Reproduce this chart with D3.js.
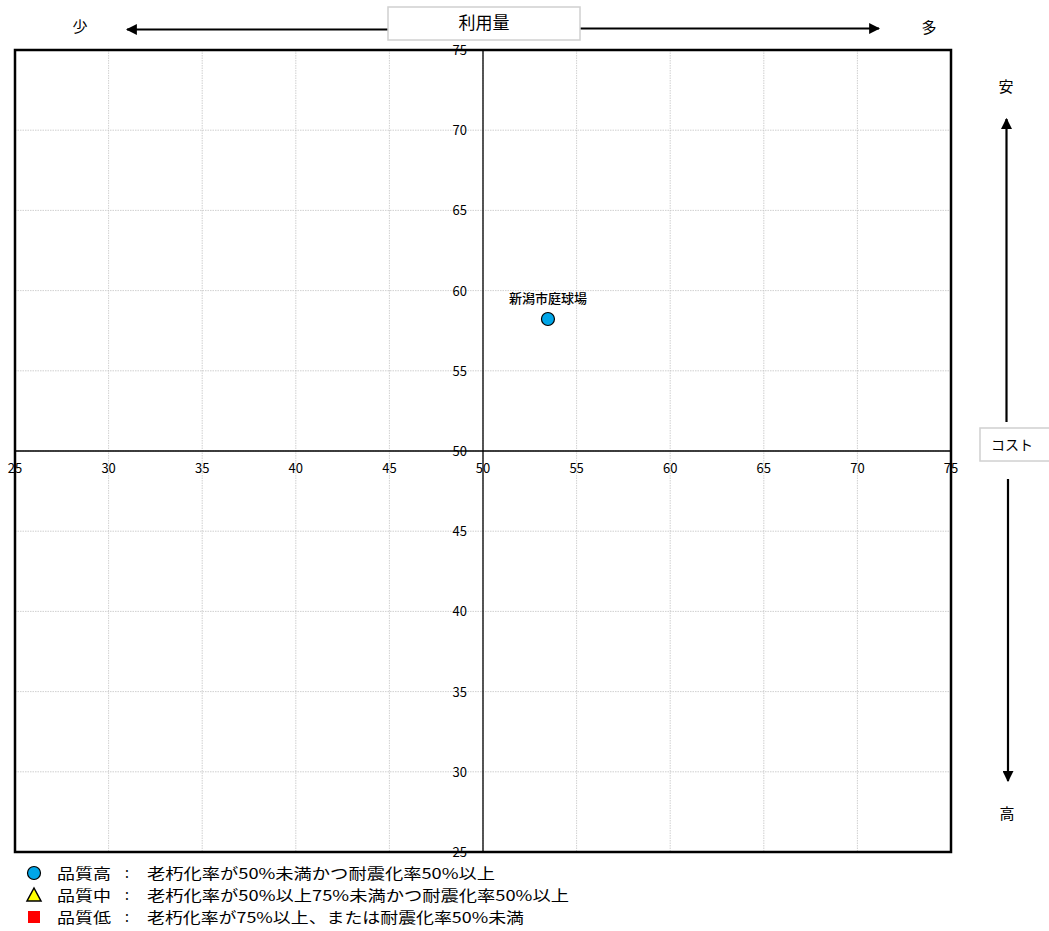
<!DOCTYPE html>
<html><head><meta charset="utf-8">
<script src="https://cdn.jsdelivr.net/npm/d3@7/dist/d3.min.js"></script>
<style>body{margin:0;background:#fff;font-family:"Noto Sans CJK JP","Noto Sans",sans-serif;}</style>
</head><body><svg id="c" width="1049" height="931"></svg>
<script>
const facilities = ["新潟市庭球場"];
const usage = [53.47];
const cost = [58.23];
const quality = ["high"];
const xTicks = [25,30,35,40,45,50,55,60,65,70,75];
const yTicks = [25,30,35,40,45,50,55,60,65,70,75];
const legendNames = ["品質高","品質中","品質低"];
const legendDesc = ["老朽化率が50%未満かつ耐震化率50%以上","老朽化率が50%以上75%未満かつ耐震化率50%以上","老朽化率が75%以上、または耐震化率50%未満"];
const legendKeys = ["high","mid","low"];
const legendDescWidth = [348,422,377];

const svg = d3.select("#c");
const L=15,R=951,T=50,B=852;
const x = d3.scaleLinear().domain([25,75]).range([L,R]);
const y = d3.scaleLinear().domain([25,75]).range([B,T]);
const font = '"Noto Sans CJK JP","Noto Sans",sans-serif';

svg.append("defs").html(`<marker id="ah" viewBox="0 0 10 10" refX="9" refY="5" markerWidth="5" markerHeight="5" orient="auto-start-reverse" markerUnits="strokeWidth"><path d="M0,0 L10,5 L0,10 z" fill="#000"/></marker>`);

// grid
const g = svg.append("g");
g.selectAll(".vx").data(xTicks.slice(1,-1)).join("line")
 .attr("x1",d=>x(d)).attr("x2",d=>x(d)).attr("y1",T).attr("y2",B)
 .attr("stroke","#c4c4c4").attr("stroke-width",0.8).attr("stroke-dasharray","1.5,1");
g.selectAll(".hy").data(yTicks.slice(1,-1)).join("line")
 .attr("y1",d=>y(d)).attr("y2",d=>y(d)).attr("x1",L).attr("x2",R)
 .attr("stroke","#c4c4c4").attr("stroke-width",0.8).attr("stroke-dasharray","1.5,1");

// center axes
svg.append("line").attr("x1",x(50)).attr("x2",x(50)).attr("y1",T).attr("y2",B).attr("stroke","#000").attr("stroke-width",1.3);
svg.append("line").attr("x1",L).attr("x2",R).attr("y1",y(50)).attr("y2",y(50)).attr("stroke","#000").attr("stroke-width",1.3);

// tick labels
svg.selectAll(".xl").data(xTicks).join("text")
 .attr("x",d=>x(d)).attr("y",y(50)+22).attr("text-anchor","middle")
 .attr("font-family",font).attr("font-size",13).attr("fill","#000").text(d=>d);
svg.selectAll(".yl").data(yTicks).join("text")
 .attr("x",x(50)-16).attr("y",d=>y(d)+5).attr("text-anchor","end")
 .attr("font-family",font).attr("font-size",13).attr("fill","#000").text(d=>d);

// border
svg.append("rect").attr("x",L).attr("y",T).attr("width",R-L).attr("height",B-T).attr("fill","none").attr("stroke","#000").attr("stroke-width",2.5);

// points
const pts = facilities.map((f,i)=>({name:f,u:usage[i],c:cost[i],q:quality[i]}));
function sym(sel,q){
  if(q==="high") sel.append("circle").attr("r",6.5).attr("fill","#00a6e8").attr("stroke","#000").attr("stroke-width",1.2);
  else if(q==="mid") sel.append("path").attr("d","M0,-7 L7,6 L-7,6 Z").attr("fill","#ffff00").attr("stroke","#000").attr("stroke-width",1.5);
  else sel.append("rect").attr("x",-6).attr("y",-6).attr("width",12).attr("height",12).attr("fill","#ff0000");
}
pts.forEach(p=>{
  const gg = svg.append("g").attr("transform",`translate(${x(p.u)},${y(p.c)})`);
  sym(gg,p.q);
  svg.append("text").attr("x",x(p.u)).attr("y",y(p.c)-16).attr("text-anchor","middle")
   .attr("font-family",font).attr("font-size",13).attr("font-weight",500).attr("fill","#000").text(p.name);
});

// top axis annotation
svg.append("line").attr("x1",388).attr("x2",127).attr("y1",29.5).attr("y2",29.5).attr("stroke","#000").attr("stroke-width",2.2).attr("marker-end","url(#ah)");
svg.append("line").attr("x1",580).attr("x2",879).attr("y1",28.5).attr("y2",28.5).attr("stroke","#000").attr("stroke-width",2.2).attr("marker-end","url(#ah)");
svg.append("rect").attr("x",388).attr("y",7).attr("width",192).attr("height",33).attr("fill","#fff").attr("stroke","#d0d0d0").attr("stroke-width",1.5);
svg.append("text").attr("x",484).attr("y",29).attr("text-anchor","middle").attr("font-family",font).attr("font-size",17).text("利用量");
svg.append("text").attr("x",80).attr("y",32).attr("text-anchor","middle").attr("font-family",font).attr("font-size",15).text("少");
svg.append("text").attr("x",929).attr("y",33).attr("text-anchor","middle").attr("font-family",font).attr("font-size",15).text("多");

// right annotation
svg.append("line").attr("x1",1006.5).attr("x2",1006.5).attr("y1",422).attr("y2",119).attr("stroke","#000").attr("stroke-width",2.2).attr("marker-end","url(#ah)");
svg.append("line").attr("x1",1008).attr("x2",1008).attr("y1",479).attr("y2",781).attr("stroke","#000").attr("stroke-width",2.2).attr("marker-end","url(#ah)");
svg.append("rect").attr("x",980).attr("y",428).attr("width",72).attr("height",33).attr("fill","#fff").attr("stroke","#d0d0d0").attr("stroke-width",1.5);
svg.append("text").attr("x",991).attr("y",450).attr("font-family",font).attr("font-size",14).text("コスト");
svg.append("text").attr("x",1006).attr("y",92).attr("text-anchor","middle").attr("font-family",font).attr("font-size",15).text("安");
svg.append("text").attr("x",1007).attr("y",819).attr("text-anchor","middle").attr("font-family",font).attr("font-size",15).text("高");

// legend
legendKeys.forEach((k,i)=>{
  const cy = 873 + i*22;
  const gg = svg.append("g").attr("transform",`translate(34,${cy})`);
  sym(gg,k);
  svg.append("text").attr("x",57).attr("y",cy+6).attr("font-family",font).attr("font-size",15)
    .attr("textLength",54).attr("lengthAdjust","spacingAndGlyphs").text(legendNames[i]);
  svg.append("text").attr("x",125).attr("y",cy+5).attr("font-family",font).attr("font-size",14).text(":");
  svg.append("text").attr("x",147).attr("y",cy+6).attr("font-family",font).attr("font-size",15)
    .attr("textLength",legendDescWidth[i]).attr("lengthAdjust","spacingAndGlyphs").text(legendDesc[i]);
});
</script></body></html>
